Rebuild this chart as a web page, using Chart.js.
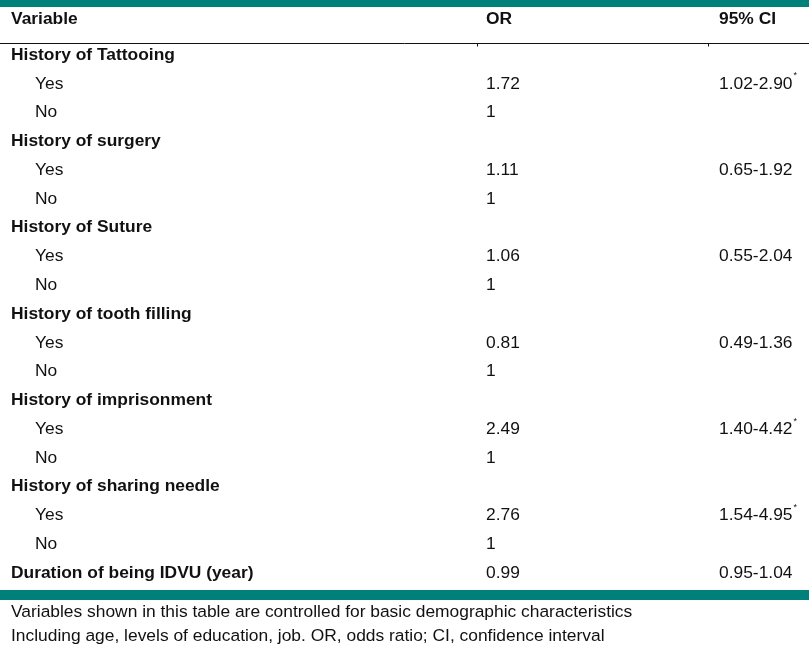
<!DOCTYPE html>
<html>
<head>
<meta charset="utf-8">
<script src="https://cdn.jsdelivr.net/npm/chart.js@4/dist/chart.umd.min.js"></script>
<style>
  html, body { margin: 0; padding: 0; background: #fff; }
  #wrap { width: 809px; height: 647px; position: relative; }
</style>
</head>
<body>
<div id="wrap"><canvas id="chart"></canvas></div>
<script>
// 표 데이터
const headers = ["Variable", "OR", "95% CI"];
const groups = [
  "History of Tattooing",
  "History of surgery",
  "History of Suture",
  "History of tooth filling",
  "History of imprisonment",
  "History of sharing needle"
];
const levels = ["Yes", "No"];
const orYes = [1.72, 1.11, 1.06, 0.81, 2.49, 2.76];
const ciYes = ["1.02-2.90", "0.65-1.92", "0.55-2.04", "0.49-1.36", "1.40-4.42", "1.54-4.95"];
const starred = [true, false, false, false, true, true];
const orRef = 1;
const lastLabel = "Duration of being IDVU (year)";
const lastOR = 0.99;
const lastCI = "0.95-1.04";
const notes = [
  "Variables shown in this table are controlled for basic demographic characteristics",
  "Including age, levels of education, job. OR, odds ratio; CI, confidence interval"
];

// 행 만들기 (row 번호 = y값)
const rows = [];
groups.forEach((g, i) => {
  rows.push({ label: g, bold: true, indent: false, or: "", ci: "", star: false });
  rows.push({ label: levels[0], bold: false, indent: true, or: orYes[i].toFixed(2), ci: ciYes[i], star: starred[i] });
  rows.push({ label: levels[1], bold: false, indent: true, or: String(orRef), ci: "", star: false });
});
rows.push({ label: lastLabel, bold: true, indent: false, or: lastOR.toFixed(2), ci: lastCI, star: false });

// 열 위치 (x축 단위)
const COL_VAR = 11, COL_IND = 35, COL_OR = 486, COL_CI = 719;
const HEADER_ROW = -0.25;
const TEAL = "#00807b";
const FONT = "'Liberation Sans', Arial, sans-serif";
const SIZE = "17.4px ";
const DY = 1; // 글자 세로 보정

const cellPoints = rows.map((r, i) => ({ x: r.indent ? COL_IND : COL_VAR, y: i + 1 }));

const tablePlugin = {
  id: "tableText",
  afterDraw(chart) {
    const ctx = chart.ctx;
    const xs = chart.scales.x, ys = chart.scales.y;
    const W = chart.width;
    ctx.save();

    // 윗 띠
    ctx.fillStyle = TEAL;
    ctx.fillRect(0, 0, W, Math.round(ys.getPixelForValue(-0.63)));
    // 머리줄 아래 선
    const lineY = Math.round(ys.getPixelForValue(0.62)) + 0.5;
    ctx.strokeStyle = "#111";
    ctx.lineWidth = 1;
    ctx.beginPath();
    ctx.moveTo(0, lineY); ctx.lineTo(W, lineY);
    [COL_OR - 9, COL_CI - 11].forEach(px => {
      ctx.moveTo(xs.getPixelForValue(px) + 0.5, lineY);
      ctx.lineTo(xs.getPixelForValue(px) + 0.5, lineY + 3);
    });
    ctx.stroke();
    // 아래 띠
    const bandTop = Math.round(ys.getPixelForValue(rows.length + 0.62));
    ctx.fillStyle = TEAL;
    ctx.fillRect(0, bandTop, W, 10);

    ctx.fillStyle = "#111";
    ctx.textBaseline = "middle";
    ctx.textAlign = "left";

    // 머리글
    ctx.font = "bold " + SIZE + FONT;
    const hy = ys.getPixelForValue(HEADER_ROW) + DY;
    ctx.fillText(headers[0], xs.getPixelForValue(COL_VAR), hy);
    ctx.fillText(headers[1], xs.getPixelForValue(COL_OR), hy);
    ctx.fillText(headers[2], xs.getPixelForValue(COL_CI), hy);

    // 본문
    const meta = chart.getDatasetMeta(0);
    rows.forEach((r, i) => {
      const pt = meta.data[i];
      const y = pt.y + DY;
      ctx.font = (r.bold ? "bold " : "") + SIZE + FONT;
      ctx.fillText(r.label, pt.x, y);
      ctx.font = SIZE + FONT;
      if (r.or) ctx.fillText(r.or, xs.getPixelForValue(COL_OR), y);
      if (r.ci) {
        const cx = xs.getPixelForValue(COL_CI);
        ctx.fillText(r.ci, cx, y);
        if (r.star) {
          const w = ctx.measureText(r.ci).width;
          ctx.font = "9px " + FONT;
          ctx.fillText("*", cx + w + 1, y - 8);
        }
      }
    });

    // 각주
    ctx.font = SIZE + FONT;
    notes.forEach((n, k) => {
      ctx.fillText(n, xs.getPixelForValue(COL_VAR), ys.getPixelForValue(rows.length + 1.36 + k * 0.84) + DY);
    });
    ctx.restore();
  }
};

new Chart(document.querySelector("#chart"), {
  type: "scatter",
  data: {
    datasets: [{
      label: "cells",
      data: cellPoints,
      pointRadius: 0,
      pointHoverRadius: 0
    }]
  },
  options: {
    animation: false,
    responsive: true,
    maintainAspectRatio: false,
    layout: { padding: 0 },
    events: [],
    plugins: { legend: { display: false }, tooltip: { enabled: false } },
    scales: {
      x: { type: "linear", display: false, min: 0, max: 809 },
      y: { type: "linear", display: false, reverse: true, min: -0.876, max: 21.605 }
    }
  },
  plugins: [tablePlugin]
});
</script>
</body>
</html>
